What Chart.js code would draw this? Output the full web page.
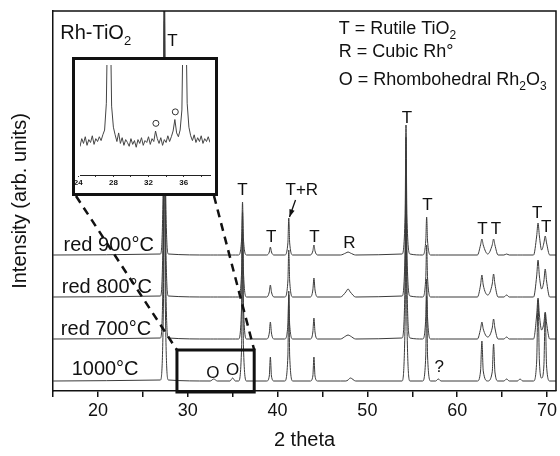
<!DOCTYPE html>
<html><head><meta charset="utf-8">
<script src="https://cdn.jsdelivr.net/npm/chart.js@4.4.0/dist/chart.umd.min.js"></script>
<style>
html,body{margin:0;padding:0;background:#fff;}
#wrap{position:relative;width:560px;height:456px;overflow:hidden;}
#main{position:absolute;left:0;top:0;}
#insetBox{position:absolute;left:72px;top:57px;width:140px;height:133px;border:3px solid #111;background:#fff;overflow:hidden;}
#inset{position:absolute;left:0;top:0;}
</style></head><body>
<div id="wrap">
<canvas id="main" width="560" height="456"></canvas>
<div id="insetBox"><canvas id="inset" width="140" height="133"></canvas></div>
</div>
<script>
const FONT = '"Liberation Sans", Arial, Helvetica, sans-serif';

// 2-theta sampling points (degrees) shared by the four patterns
const twoTheta = [15, 26.95, 27.3, 27.4, 27.5, 27.85, 32.5, 32.9, 33.3, 34.7, 35.0, 35.3, 35.65, 36.0, 36.1, 36.2, 36.55, 38.8, 39.08, 39.2, 39.32, 39.6, 40.8, 41.15, 41.25, 41.35, 41.7, 43.65, 43.93, 44.05, 44.17, 44.45, 47.0, 47.6, 47.85, 48.1, 48.7, 53.85, 54.2, 54.3, 54.4, 54.75, 56.15, 56.5, 56.6, 56.7, 57.05, 57.6, 57.9, 58.2, 62.25, 62.6, 62.75, 62.9, 63.4, 63.9, 64.05, 64.2, 64.55, 65.2, 65.5, 65.8, 66.7, 67.0, 67.3, 68.5, 68.85, 69.0, 69.15, 69.4, 69.65, 69.8, 69.95, 70.3, 71];

// Intensities (arb. units, stacked with offsets)
const red900 = [136,
 137,230,436,230,137,
 136,136,136,
 136,136,136,
 136,152,189,152,136,
 136,139,144,139,136,
 136,148,173,148,136,
 136,140,146,140,136,
 136,138,139,138,136,
 137,175,266,175,137,
 136,150,174,150,136,
 136,136,136,
 136,146,152,146,137,
 146,152,146,136,
 136,137,136,
 136,136,136,
 136,155,168,155,141,
 148,155,148,136,
 136];
const red800 = [94,
 95,190,414,190,95,
 94,94,94,
 94,94,94,
 94,120,179,120,94,
 94,99,106,99,94,
 94,110,141,110,94,
 94,101,113,101,94,
 94,99,102,99,94,
 95,140,254,140,95,
 94,113,146,113,94,
 94,94,94,
 94,106,116,106,96,
 107,117,107,94,
 94,96,94,
 94,94,94,
 94,115,131,115,102,
 110,122,110,94,
 94];
const red700 = [52,
 53,150,382,150,53,
 52,52,52,
 52,52,52,
 52,86,162,86,52,
 52,58,69,58,52,
 52,66,96,66,52,
 52,59,73,59,52,
 52,55,56,55,52,
 53,110,232,110,53,
 52,73,112,73,52,
 52,52,52,
 52,62,69,62,54,
 63,72,63,52,
 52,54,52,
 52,52,52,
 52,76,93,76,61,
 68,79,68,52,
 52];
const calc1000 = [10,
 11,90,370,90,11,
 10,12,10,
 10,13,10,
 10,45,160,45,10,
 10,15,34,15,10,
 10,35,100,35,10,
 10,15,34,15,10,
 10,10,11,13,10,
 10,70,230,70,10,
 10,35,95,35,10,
 10,12,10,
 10,20,50,20,10,
 19,47,19,10,
 10,12,10,
 10,12,10,
 10,30,91,30,13,
 25,78,25,10,
 10];

const sampleNames = ['red 900°C', 'red 800°C', 'red 700°C', '1000°C'];
const xTickValues = [20, 30, 40, 50, 60, 70];

// Inset: 1000°C pattern, 24-39 degrees
const insetX = [24.0,24.2,24.4,24.6,24.8,25.0,25.2,25.4,25.6,25.8,26.0,26.2,26.4,26.6,26.8,27.0,27.2,27.4,27.6,27.8,28.0,28.2,28.4,28.6,28.8,29.0,29.2,29.4,29.6,29.8,30.0,30.2,30.4,30.6,30.8,31.0,31.2,31.4,31.6,31.8,32.0,32.2,32.4,32.6,32.8,33.0,33.2,33.4,33.6,33.8,34.0,34.2,34.4,34.6,34.8,35.0,35.2,35.4,35.6,35.8,36.0,36.2,36.4,36.6,36.8,37.0,37.2,37.4,37.6,37.8,38.0,38.2,38.4,38.6,38.8,39.0];
const insetY = [36,30,38,33,40,31,37,34,41,32,38,35,40,36,42,47,75,200,200,72,50,42,35,44,33,39,31,37,34,30,38,32,36,29,37,33,39,31,36,34,40,32,38,35,46,38,33,39,31,37,34,41,35,40,46,58,44,40,47,68,200,200,75,50,41,36,42,34,39,35,41,33,38,35,40,34];
const insetTickValues = [24, 26, 28, 30, 32, 34, 36, 38];
const insetMarkers = [{x: 32.84, y: 54}, {x: 35.05, y: 66}];

// Annotations (data coordinates)
const peakLabels = [
  {t:'T', x:28.3, y:350}, {t:'T', x:36.1, y:201}, {t:'T', x:39.3, y:154},
  {t:'T', x:44.1, y:154}, {t:'R', x:48.0, y:148}, {t:'T', x:54.4, y:273},
  {t:'T', x:56.7, y:186}, {t:'T', x:62.8, y:162}, {t:'T', x:64.3, y:162},
  {t:'T', x:68.9, y:178}, {t:'T', x:69.9, y:164}, {t:'?', x:58.0, y:24},
  {t:'T+R', x:42.7, y:201}, {t:'O', x:32.8, y:18}, {t:'O', x:35.0, y:21}
];
const sampleLabelPos = [{x:21.2, y:146}, {x:21.0, y:104}, {x:20.9, y:62}, {x:20.8, y:22}];
const zoomBox = {x0: 28.8, x1: 37.4, y0: -1, y1: 41};

function pts(xs, ys) { return xs.map((x, i) => ({x, y: ys[i]})); }

function drawRich(ctx, segs, x, y, size, align) {
  const sub = Math.round(size * 0.65);
  let w = 0;
  segs.forEach(s => { ctx.font = (s[1] ? sub : size) + 'px ' + FONT; w += ctx.measureText(s[0]).width; });
  let cx = align === 'center' ? x - w / 2 : x;
  ctx.textAlign = 'left'; ctx.textBaseline = 'alphabetic';
  segs.forEach(s => {
    ctx.font = (s[1] ? sub : size) + 'px ' + FONT;
    ctx.fillText(s[0], cx, y + (s[1] ? size * 0.3 : 0));
    cx += ctx.measureText(s[0]).width;
  });
}

const annot = {
  id: 'annot',
  afterDatasetsDraw(chart) {
    const {ctx, chartArea: a, scales: {x, y}} = chart;
    ctx.save();
    ctx.fillStyle = '#111'; ctx.strokeStyle = '#111';
    ctx.lineWidth = 1.5;
    ctx.beginPath(); ctx.moveTo(a.left, a.top); ctx.lineTo(a.right, a.top); ctx.lineTo(a.right, a.bottom); ctx.stroke();
    ctx.font = '17px ' + FONT; ctx.textAlign = 'center'; ctx.textBaseline = 'middle';
    peakLabels.forEach(p => ctx.fillText(p.t, x.getPixelForValue(p.x), y.getPixelForValue(p.y)));
    ctx.font = '20px ' + FONT;
    sampleNames.forEach((n, i) => ctx.fillText(n, x.getPixelForValue(sampleLabelPos[i].x), y.getPixelForValue(sampleLabelPos[i].y)));
    const ax0 = x.getPixelForValue(42.0), ay0 = y.getPixelForValue(191);
    const ax1 = x.getPixelForValue(41.33), ay1 = y.getPixelForValue(174);
    ctx.lineWidth = 1.3;
    ctx.beginPath(); ctx.moveTo(ax0, ay0); ctx.lineTo(ax1, ay1); ctx.stroke();
    const ang = Math.atan2(ay1 - ay0, ax1 - ax0);
    ctx.beginPath(); ctx.moveTo(ax1, ay1);
    ctx.lineTo(ax1 - 8 * Math.cos(ang - 0.35), ay1 - 8 * Math.sin(ang - 0.35));
    ctx.lineTo(ax1 - 8 * Math.cos(ang + 0.35), ay1 - 8 * Math.sin(ang + 0.35));
    ctx.closePath(); ctx.fill();
    const lx = x.getPixelForValue(46.8);
    drawRich(ctx, [['T = Rutile TiO'], ['2', 1]], lx, y.getPixelForValue(364) + 7, 18, 'left');
    drawRich(ctx, [['R = Cubic Rh°']], lx, y.getPixelForValue(341) + 7, 18, 'left');
    drawRich(ctx, [['O = Rhombohedral Rh'], ['2', 1], ['O'], ['3', 1]], lx, y.getPixelForValue(313) + 7, 18, 'left');
    drawRich(ctx, [['Rh-TiO'], ['2', 1]], x.getPixelForValue(15.8), y.getPixelForValue(359) + 7, 20, 'left');
    const bx0 = x.getPixelForValue(zoomBox.x0), bx1 = x.getPixelForValue(zoomBox.x1);
    const by0 = y.getPixelForValue(zoomBox.y1), by1 = y.getPixelForValue(zoomBox.y0);
    ctx.lineWidth = 3;
    ctx.strokeRect(bx0, by0, bx1 - bx0, by1 - by0);
    ctx.lineWidth = 2.5; ctx.setLineDash([8, 6]);
    ctx.beginPath(); ctx.moveTo(76, 196); ctx.lineTo(bx0, by0); ctx.stroke();
    ctx.beginPath(); ctx.moveTo(214, 196); ctx.lineTo(bx1, by0); ctx.stroke();
    ctx.restore();
  }
};

const lineStyle = {borderColor: '#3a3a3a', borderWidth: 1, pointRadius: 0, fill: false, cubicInterpolationMode: 'monotone'};

new Chart(document.getElementById('main'), {
  type: 'line',
  data: {
    datasets: [
      {label: sampleNames[0], data: pts(twoTheta, red900), ...lineStyle},
      {label: sampleNames[1], data: pts(twoTheta, red800), ...lineStyle},
      {label: sampleNames[2], data: pts(twoTheta, red700), ...lineStyle},
      {label: sampleNames[3], data: pts(twoTheta, calc1000), ...lineStyle}
    ]
  },
  options: {
    responsive: false, animation: false, devicePixelRatio: 1,
    layout: {padding: {left: 0, right: 4, top: 11, bottom: 0}},
    plugins: {legend: {display: false}, tooltip: {enabled: false}},
    scales: {
      x: {
        type: 'linear', min: 15, max: 71,
        ticks: {stepSize: 5, includeBounds: false, autoSkip: false, maxRotation: 0, padding: 3,
          color: '#111', font: {size: 18, family: FONT},
          callback: v => xTickValues.includes(v) ? String(v) : ''},
        grid: {drawOnChartArea: false, drawTicks: true, tickLength: 6, color: '#111', lineWidth: 1.5},
        border: {display: true, color: '#111', width: 1.5},
        title: {display: true, text: '2 theta', color: '#111', font: {size: 20, family: FONT}, padding: {top: 0, bottom: 4}},
        afterFit: s => { s.height = 65; s.paddingLeft = 0; s.paddingRight = 0; }
      },
      y: {
        type: 'linear', min: 0, max: 380,
        ticks: {display: false},
        grid: {display: false, drawOnChartArea: false, drawTicks: false},
        border: {display: true, color: '#111', width: 1.5},
        title: {display: true, text: 'Intensity (arb. units)', color: '#111', font: {size: 20, family: FONT}, padding: {top: 8, bottom: 0}},
        afterFit: s => { s.width = 53; s.paddingTop = 0; s.paddingBottom = 0; }
      }
    }
  },
  plugins: [annot]
});

new Chart(document.getElementById('inset'), {
  type: 'line',
  data: {
    datasets: [
      {data: pts(insetX, insetY), borderColor: '#444', borderWidth: 1, pointRadius: 0, tension: 0},
      {type: 'scatter', data: insetMarkers, pointRadius: 3, pointBorderWidth: 1, pointBorderColor: '#333', pointBackgroundColor: '#fff', showLine: false}
    ]
  },
  options: {
    responsive: false, animation: false, devicePixelRatio: 1,
    layout: {padding: 0},
    plugins: {legend: {display: false}, tooltip: {enabled: false}},
    scales: {
      x: {
        type: 'linear', min: 24.2, max: 39.0,
        afterBuildTicks: s => { s.ticks = insetTickValues.map(v => ({value: v})); },
        ticks: {autoSkip: false, maxRotation: 0, padding: 1, color: '#111',
          font: {size: 8, weight: 'bold', family: FONT},
          callback: v => (v % 4 === 0) ? String(v) : ''},
        grid: {drawOnChartArea: false, drawTicks: true, tickLength: 2, color: '#333', lineWidth: 1},
        border: {display: true, color: '#222', width: 1},
        afterFit: s => { s.height = 18; s.paddingLeft = 0; s.paddingRight = 0; }
      },
      y: {type: 'linear', display: false, min: 0, max: 115}
    }
  }
});
</script>
</body></html>
